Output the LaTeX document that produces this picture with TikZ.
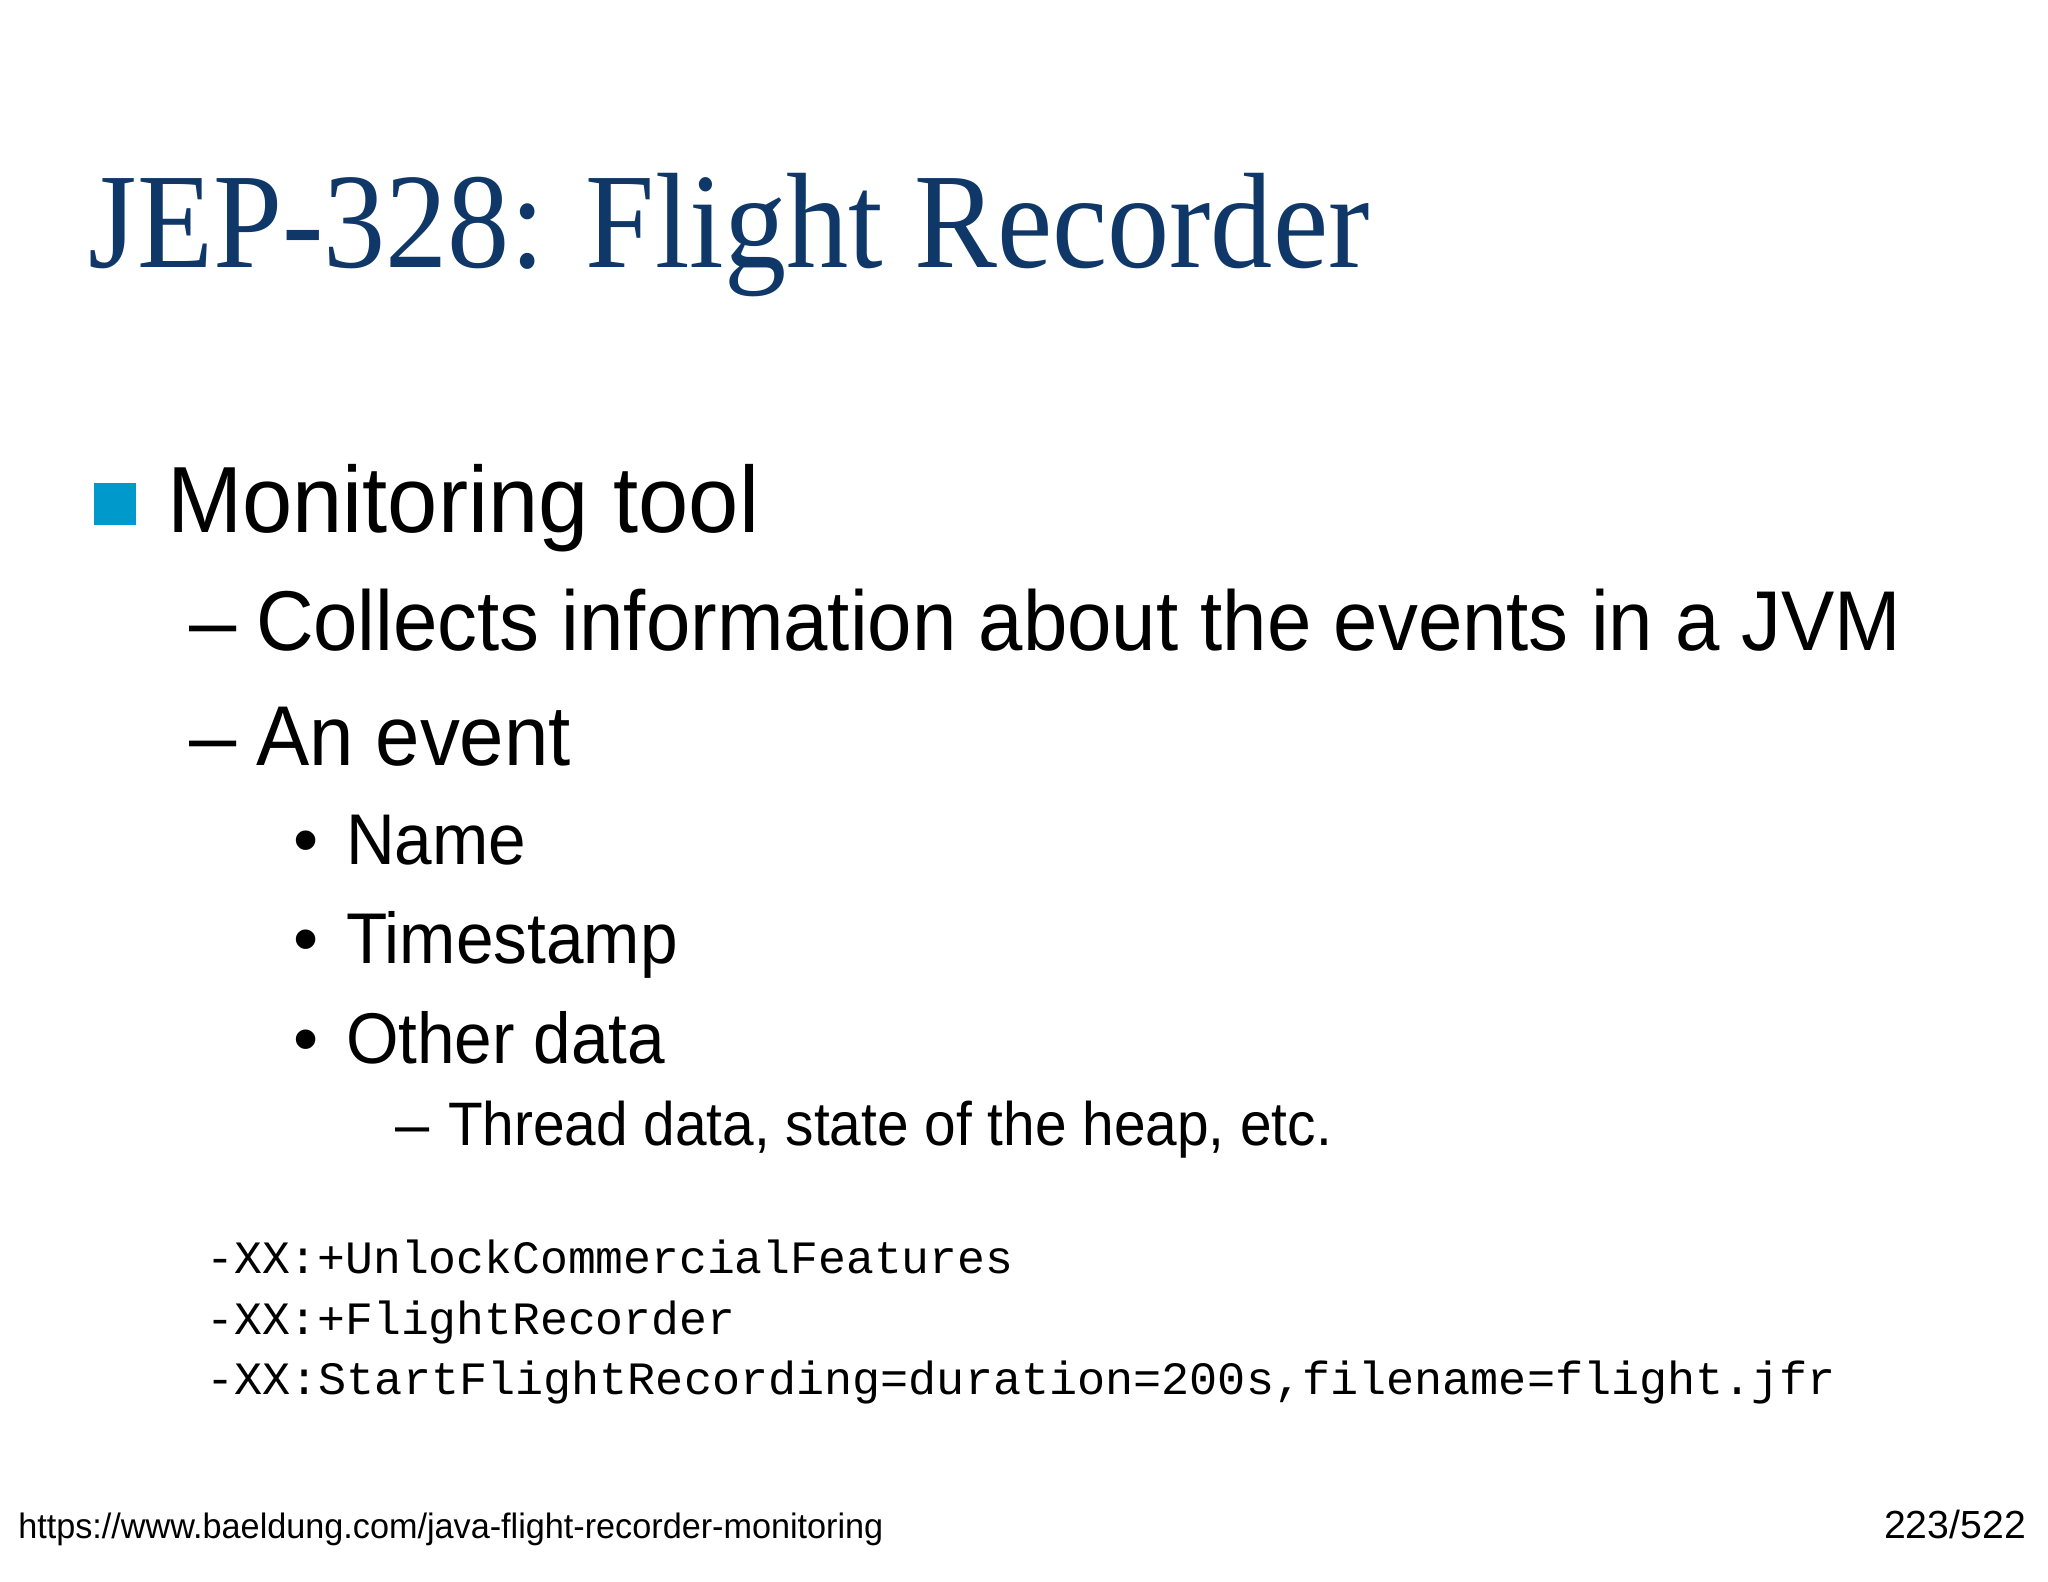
\documentclass[tikz,border=0pt]{standalone}
\usepackage{fontspec}
\usepackage{graphicx}
\setmainfont{Liberation Sans}
\newfontfamily\titlefont{Liberation Serif}
\newfontfamily\codefont{Liberation Mono}
\definecolor{titleblue}{HTML}{0F3868}
\definecolor{bulletblue}{HTML}{0099CC}
\newcommand{\sqz}[2]{\scalebox{#1}[1]{#2}}
\begin{document}
\begin{tikzpicture}[x=1pt,y=-1pt,
  txt/.style={anchor=base west,inner sep=0pt,outer sep=0pt},
  lvone/.style={txt,font=\fontsize{72}{80}\selectfont},
  lvtwo/.style={txt,font=\fontsize{65}{72}\selectfont},
  lvthree/.style={txt,font=\fontsize{55}{62}\selectfont},
  lvfour/.style={txt,font=\fontsize{47}{54}\selectfont},
  code/.style={txt,font=\codefont\fontsize{35.5}{40}\selectfont},
  foot/.style={txt,font=\fontsize{27}{30}\selectfont}]
\useasboundingbox (0,0) rectangle (1568,1211);
\fill[white] (0,0) rectangle (1568,1211);
\node[txt,text=titleblue,font=\titlefont\fontsize{104}{110}\selectfont] (title) at (68,205) {\sqz{0.915}{JEP-328: Flight Recorder}};
\fill[bulletblue] (72,370) rectangle (104,402);
\node[lvone] (mon) at (128,408) {\sqz{0.96}{Monitoring tool}};
\node[lvtwo] (d1) at (145,498) {–};
\node[lvtwo] (collects) at (196,498) {\sqz{0.94}{Collects information about the events in a JVM}};
\node[lvtwo] (d2) at (145,586) {–};
\node[lvtwo] (event) at (196,586) {\sqz{0.94}{An event}};
\node[lvthree] (b1) at (225,662) {•};
\node[lvthree] (name) at (265,662) {\sqz{0.94}{Name}};
\node[lvthree] (b2) at (225,738) {•};
\node[lvthree] (ts) at (265,738) {\sqz{0.94}{Timestamp}};
\node[lvthree] (b3) at (225,814) {•};
\node[lvthree] (other) at (265,814) {\sqz{0.94}{Other data}};
\node[lvfour] (d3) at (303,877) {–};
\node[lvfour] (thread) at (343,877) {\sqz{0.925}{Thread data, state of the heap, etc.}};
\node[code] (c1) at (158,975) {-XX:+UnlockCommercialFeatures};
\node[code] (c2) at (158,1022) {-XX:+FlightRecorder};
\node[code] (c3) at (158,1068) {\sqz{1.01}{-XX:StartFlightRecording=duration=200s,filename=flight.jfr}};
\node[foot] (url) at (14,1178) {\sqz{0.97}{https://www.baeldung.com/java-flight-recorder-monitoring}};
\node[foot,anchor=base east,font=\fontsize{30}{33}\selectfont] (page) at (1551,1178) {223/522};
\end{tikzpicture}
\end{document}
